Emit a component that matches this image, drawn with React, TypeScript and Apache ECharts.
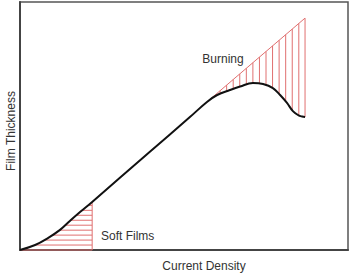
import React, { useEffect, useRef } from "react";
import * as echarts from "echarts";

// Main curve: film thickness vs current density (arbitrary units 0-100)
const curveX = [0, 4.6, 8.5, 12.2, 15.2, 18.3, 22, 39.6, 51.8, 57.0, 60.1, 64.0, 67.1, 71.0, 74.1, 77.1, 79.3, 81.4, 83.2, 84.8, 86.0, 86.9];
const curveY = [0, 2.0, 4.8, 8.1, 11.7, 15.3, 19.4, 39.6, 53.6, 59.7, 62.5, 64.5, 65.9, 67.3, 66.9, 65.3, 62.5, 59.3, 56.0, 54.4, 53.8, 53.6];

// Soft films region: horizontal hatch levels and right edge
const softEdgeX = 22;
const softHatchY = [0, 2, 4, 6, 8, 10, 12, 14, 16, 18];

// Burning region: straight upper line and vertical hatch positions
const burnTopX = [57.0, 86.9];
const burnTopY = [59.7, 93.5];
const burnHatchX = [59, 61, 63, 65, 67, 69, 71, 73, 75, 77, 79, 81, 83, 85, 86.9];

const xTitle = "Current Density";
const yTitle = "Film Thickness";
const softLabel = "Soft Films";
const burnLabel = "Burning";

function interpXatY(y: number): number {
  for (let i = 0; i < curveX.length - 1; i++) {
    if (y >= curveY[i] && y <= curveY[i + 1]) {
      const t = (y - curveY[i]) / (curveY[i + 1] - curveY[i] || 1);
      return curveX[i] + t * (curveX[i + 1] - curveX[i]);
    }
  }
  return curveX[0];
}
function interpYatX(x: number): number {
  for (let i = 0; i < curveX.length - 1; i++) {
    if (x >= curveX[i] && x <= curveX[i + 1]) {
      const t = (x - curveX[i]) / (curveX[i + 1] - curveX[i] || 1);
      return curveY[i] + t * (curveY[i + 1] - curveY[i]);
    }
  }
  return curveY[curveY.length - 1];
}
function topYatX(x: number): number {
  const t = (x - burnTopX[0]) / (burnTopX[1] - burnTopX[0]);
  return burnTopY[0] + t * (burnTopY[1] - burnTopY[0]);
}

export default function App() {
  const ref = useRef<HTMLDivElement>(null);
  useEffect(() => {
    if (!ref.current) return;
    const chart = echarts.init(ref.current, undefined, { renderer: "svg" });

    const segs: number[][] = [];
    softHatchY.forEach((y) => segs.push([interpXatY(y), y, softEdgeX, y]));
    segs.push([softEdgeX, 0, softEdgeX, interpYatX(softEdgeX)]);
    burnHatchX.forEach((x) => segs.push([x, interpYatX(x), x, topYatX(x)]));
    segs.push([burnTopX[0], burnTopY[0], burnTopX[1], burnTopY[1]]);

    const hatchColor = "#e07070";
    const font = '12px "Liberation Sans", Arial, sans-serif';

    chart.setOption({
      animation: false,
      grid: {
        left: 20,
        top: 2,
        right: 2,
        bottom: 27,
        show: true,
        borderColor: "#555",
        borderWidth: 1.5,
      },
      xAxis: {
        type: "value",
        min: 0,
        max: 100,
        axisLine: { show: true, lineStyle: { color: "#444", width: 2 } },
        axisTick: { show: false },
        axisLabel: { show: false },
        splitLine: { show: false },
      },
      yAxis: {
        type: "value",
        min: 0,
        max: 100,
        axisLine: { show: true, lineStyle: { color: "#444", width: 2 } },
        axisTick: { show: false },
        axisLabel: { show: false },
        splitLine: { show: false },
      },
      series: [
        {
          type: "custom",
          encode: { x: [0, 2], y: [1, 3] },
          data: segs,
          z: 2,
          renderItem: (params: any, api: any) => {
            const p1 = api.coord([api.value(0), api.value(1)]);
            const p2 = api.coord([api.value(2), api.value(3)]);
            return {
              type: "line",
              shape: { x1: p1[0], y1: p1[1], x2: p2[0], y2: p2[1] },
              style: { stroke: hatchColor, lineWidth: 1 },
            };
          },
        },
        {
          type: "line",
          data: curveX.map((x, i) => [x, curveY[i]]),
          smooth: 0.4,
          symbol: "none",
          z: 3,
          lineStyle: { color: "#111", width: 2 },
        },
      ],
      graphic: [
        {
          type: "text",
          x: 204,
          y: 266,
          style: { text: xTitle, font, fill: "#333", align: "center", verticalAlign: "middle" },
        },
        {
          type: "text",
          x: 11,
          y: 131,
          rotation: Math.PI / 2,
          style: { text: yTitle, font, fill: "#333", align: "center", verticalAlign: "middle" },
        },
        {
          type: "text",
          x: 101,
          y: 236,
          style: { text: softLabel, font, fill: "#333", align: "left", verticalAlign: "middle" },
        },
        {
          type: "text",
          x: 223,
          y: 59,
          style: { text: burnLabel, font, fill: "#333", align: "center", verticalAlign: "middle" },
        },
      ],
    });
    return () => chart.dispose();
  }, []);
  return (
    <div
      ref={ref}
      style={{ position: "fixed", left: 0, top: 0, width: 350, height: 277, background: "#fff" }}
    />
  );
}
